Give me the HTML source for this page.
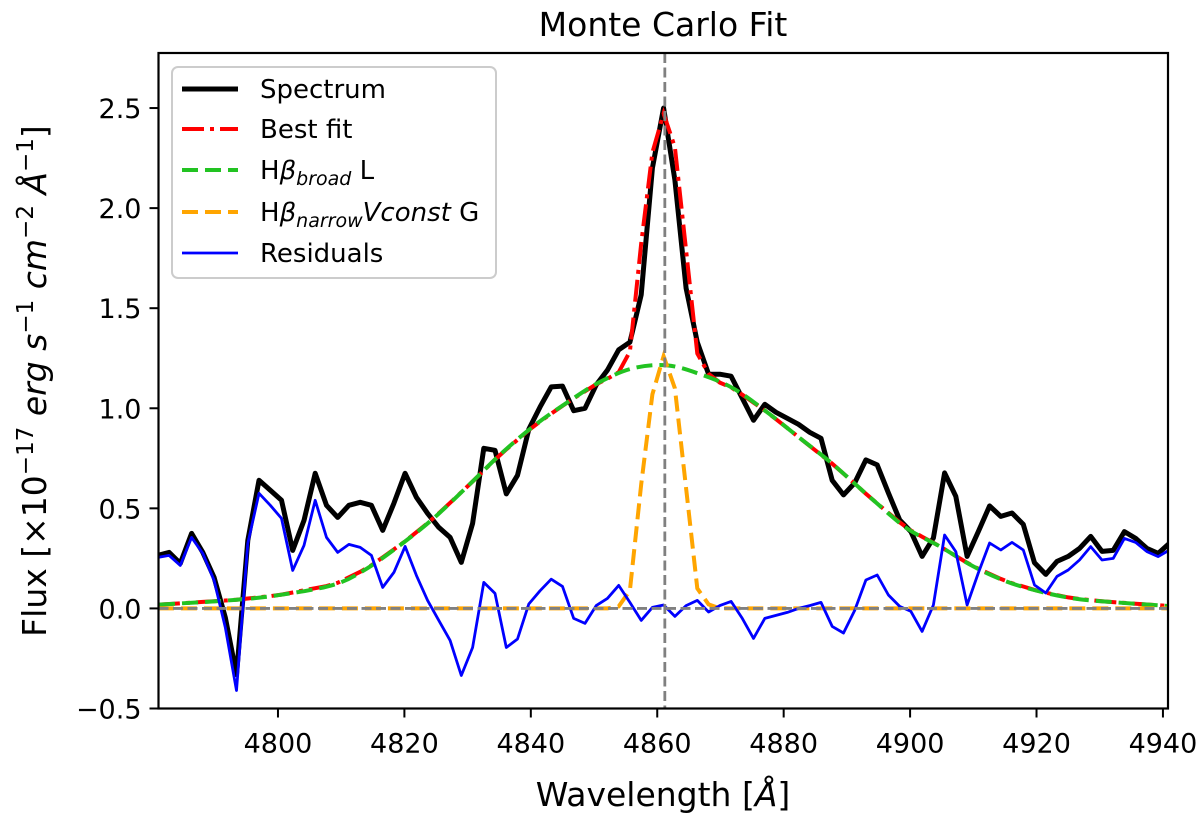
<!DOCTYPE html>
<html><head><meta charset="utf-8"><title>Monte Carlo Fit</title>
<style>
html,body{margin:0;padding:0;background:#fff;}
svg{display:block;font-family:"DejaVu Sans","Liberation Sans",sans-serif;}
</style></head>
<body>
<svg id="chart" width="1200" height="818" viewBox="0 0 1200 818" xmlns="http://www.w3.org/2000/svg">
<text x="663" y="36" font-size="33" text-anchor="middle" fill="#000">Monte Carlo Fit</text>
<g id="plot"></g>
<text x="663" y="806" font-size="33" text-anchor="middle" fill="#000">Wavelength [<tspan font-style="italic">Å</tspan>]</text>
<text transform="translate(46,381) rotate(-90)" font-size="33" text-anchor="middle" fill="#000">Flux [×10<tspan dy="-13" font-size="23">−17</tspan><tspan dy="13"> </tspan><tspan font-style="italic">erg s</tspan><tspan dy="-13" font-size="23">−1</tspan><tspan dy="13"> </tspan><tspan font-style="italic">cm</tspan><tspan dy="-13" font-size="23">−2</tspan><tspan dy="13"> </tspan><tspan font-style="italic">Å</tspan><tspan dy="-13" font-size="23">−1</tspan><tspan dy="13">]</tspan></text>
<g id="legend">
  <rect x="172" y="67" width="324" height="211" rx="6" fill="#fff" fill-opacity="0.8" stroke="#cccccc" stroke-width="2"/>
  <g>
    <line x1="182" y1="89" x2="238" y2="89" stroke="#000" stroke-width="5"/>
    <text x="260" y="98" font-size="26">Spectrum</text>
  </g>
  <g>
    <line x1="182" y1="129" x2="238" y2="129" stroke="#ff0000" stroke-width="4" stroke-dasharray="22,6,4,6"/>
    <text x="260" y="138" font-size="26">Best fit</text>
  </g>
  <g>
    <line x1="182" y1="170" x2="238" y2="170" stroke="#22c322" stroke-width="4" stroke-dasharray="16,7"/>
    <text x="260" y="179" font-size="26">H<tspan font-style="italic">β</tspan><tspan font-style="italic" font-size="19" dy="6">broad</tspan><tspan dy="-6"> L</tspan></text>
  </g>
  <g>
    <line x1="182" y1="212" x2="238" y2="212" stroke="#ffa500" stroke-width="4" stroke-dasharray="16,7"/>
    <text x="260" y="221" font-size="26">H<tspan font-style="italic">β</tspan><tspan font-style="italic" font-size="19" dy="6">narrow</tspan><tspan dy="-6" font-style="italic">Vconst</tspan><tspan> G</tspan></text>
  </g>
  <g>
    <line x1="182" y1="253" x2="238" y2="253" stroke="#0000ff" stroke-width="2.8"/>
    <text x="260" y="262" font-size="26">Residuals</text>
  </g>
</g>
</svg>
<script>
// ---- data ----
const gridStart = 4781.0;   // first wavelength sample (Å)
const gridStep = 1.778;     // sampling step (Å)
const spectrum = [0.265,0.28,0.225,0.375,0.28,0.155,-0.045,-0.33,0.34,0.64,
0.59,0.54,0.29,0.44,0.675,0.515,0.455,0.515,0.53,0.515,
0.39,0.525,0.675,0.555,0.475,0.405,0.355,0.23,0.425,0.8,
0.79,0.572,0.665,0.895,1.006,1.107,1.111,0.988,1.0,1.117,
1.19,1.292,1.33,1.567,2.2,2.5,2.14,1.6,1.33,1.17,
1.17,1.16,1.05,0.94,1.02,0.98,0.95,0.92,0.88,0.85,
0.64,0.567,0.627,0.742,0.717,0.577,0.442,0.384,0.26,0.352,
0.677,0.56,0.26,0.384,0.512,0.46,0.477,0.42,0.228,0.17,
0.235,0.26,0.3,0.36,0.285,0.29,0.384,0.35,0.3,0.275,0.325];
const residuals = [0.255,0.265,0.215,0.355,0.275,0.14,-0.095,-0.41,0.325,0.575,
0.515,0.45,0.19,0.315,0.54,0.355,0.28,0.32,0.305,0.265,
0.105,0.18,0.31,0.165,0.04,-0.06,-0.16,-0.335,-0.195,0.13,
0.075,-0.195,-0.153,0.022,0.088,0.146,0.11,-0.05,-0.075,0.014,
0.05,0.115,0.03,-0.06,0.005,0.017,-0.04,0.014,0.04,-0.018,
0.014,0.035,-0.05,-0.15,-0.05,-0.035,-0.02,0,0.014,0.03,
-0.09,-0.123,-0.01,0.142,0.167,0.067,0.01,-0.015,-0.115,0.017,
0.367,0.284,0.017,0.177,0.327,0.292,0.33,0.292,0.117,0.077,
0.16,0.192,0.242,0.309,0.242,0.25,0.35,0.33,0.284,0.259,0.292];
const narrow = [0,0,0,0,0,0,0,0,0,0, 0,0,0,0,0,0,0,0,0,0,
0,0,0,0,0,0,0,0,0,0, 0,0,0,0,0,0,0,0,0,0,
0,0.01,0.09,0.62,1.07,1.26,1.1,0.6,0.1,0.02,
0,0,0,0,0,0,0,0,0,0, 0,0,0,0,0,0,0,0,0,0,
0,0,0,0,0,0,0,0,0,0, 0,0,0,0,0,0,0,0,0,0,0];
const broadLam = [4781.2,4793,4800,4808.8,4814.1,4819.9,4824.6,4830,4835.2,4840.4,4845.8,4851,4856.2,4861.6,4866.8,4872,4877.4,4882.6,4887.8,4894.2,4899.5,4904.7,4910,4915.3,4920.6,4925.8,4931,4940.8];
const broadVal = [0.019,0.042,0.066,0.118,0.2,0.33,0.45,0.61,0.77,0.91,1.03,1.133,1.2,1.214,1.17,1.1,0.98,0.85,0.72,0.54,0.4,0.31,0.21,0.134,0.084,0.05,0.034,0.012];
const lineCenter = 4861.2;
const xTicks = [4800,4820,4840,4860,4880,4900,4920,4940];
const yTicks = [-0.5,0.0,0.5,1.0,1.5,2.0,2.5];
const yTickLabels = ["−0.5","0.0","0.5","1.0","1.5","2.0","2.5"];

// ---- axes ----
const L=158.5,R=1168,T=53,B=708.5;
const xMin=4781.1,xMax=4940.8,yMin=-0.5,yMax=2.775;
const X=v=>L+(v-xMin)/(xMax-xMin)*(R-L);
const Y=v=>B-(v-yMin)/(yMax-yMin)*(B-T);
const NS="http://www.w3.org/2000/svg";
const plot=document.getElementById('plot');
function mk(tag,attrs,parent){const e=document.createElementNS(NS,tag);for(const k in attrs)e.setAttribute(k,attrs[k]);(parent||plot).appendChild(e);return e;}
const lam=spectrum.map((_,i)=>gridStart+i*gridStep);
function interp(xs,ys,x){if(x<=xs[0])return ys[0];for(let i=1;i<xs.length;i++){if(x<=xs[i]){const t=(x-xs[i-1])/(xs[i]-xs[i-1]);return ys[i-1]+t*(ys[i]-ys[i-1]);}}return ys[ys.length-1];}
const best=lam.map((l,i)=>interp(broadLam,broadVal,l)+narrow[i]);
const pts=(xs,ys)=>xs.map((x,i)=>X(x).toFixed(1)+','+Y(ys[i]).toFixed(1)).join(' ');
function smoothPath(xs,ys){
  const P=xs.map((x,i)=>[X(x),Y(ys[i])]);
  let d='M'+P[0][0].toFixed(1)+','+P[0][1].toFixed(1);
  for(let i=0;i<P.length-1;i++){
    const p0=P[Math.max(0,i-1)],p1=P[i],p2=P[i+1],p3=P[Math.min(P.length-1,i+2)];
    const c1=[p1[0]+(p2[0]-p0[0])/6,p1[1]+(p2[1]-p0[1])/6];
    const c2=[p2[0]-(p3[0]-p1[0])/6,p2[1]-(p3[1]-p1[1])/6];
    d+=' C'+c1[0].toFixed(1)+','+c1[1].toFixed(1)+' '+c2[0].toFixed(1)+','+c2[1].toFixed(1)+' '+p2[0].toFixed(1)+','+p2[1].toFixed(1);
  }
  return d;
}

const defs=mk('defs',{});
const cp=mk('clipPath',{id:'clip'},defs);
mk('rect',{x:L,y:T,width:R-L,height:B-T},cp);
const g=mk('g',{'clip-path':'url(#clip)'});



let e;
e=mk('polyline',{points:pts(lam,spectrum),fill:'none',stroke:'#000','stroke-width':5,'stroke-linejoin':'round'},g);


e=mk('polyline',{points:pts(lam,best),fill:'none',stroke:'#ff0000','stroke-width':4,'stroke-dasharray':'22,6,4,6'},g);


e=mk('path',{d:smoothPath(broadLam,broadVal),fill:'none',stroke:'#22c322','stroke-width':4,'stroke-dasharray':'16,7'},g);


e=mk('polyline',{points:pts(lam,narrow),fill:'none',stroke:'#ffa500','stroke-width':4,'stroke-dasharray':'16,7'},g);


e=mk('polyline',{points:pts(lam,residuals),fill:'none',stroke:'#0000ff','stroke-width':2.8,'stroke-linejoin':'round'},g);


e=mk('line',{x1:L,x2:R,y1:Y(0),y2:Y(0),stroke:'#808080','stroke-width':2.8,'stroke-dasharray':'10,4.5'},g);


e=mk('line',{x1:X(lineCenter),x2:X(lineCenter),y1:T,y2:B,stroke:'#808080','stroke-width':2.8,'stroke-dasharray':'10,4.5'},g);



e=mk('rect',{x:L,y:T,width:R-L,height:B-T,fill:'none',stroke:'#000','stroke-width':2.2});



xTicks.forEach(v=>{
  const t=mk('line',{x1:X(v),x2:X(v),y1:B,y2:B+9,stroke:'#000','stroke-width':2});
  
  
  const s=mk('text',{x:X(v),y:B+44,'font-size':27,'text-anchor':'middle'});
  s.textContent=v;
  
  
});
yTicks.forEach((v,i)=>{
  const t=mk('line',{x1:L-9,x2:L,y1:Y(v),y2:Y(v),stroke:'#000','stroke-width':2});
  
  
  const s=mk('text',{x:L-17,y:Y(v)+10,'font-size':27,'text-anchor':'end'});
  s.textContent=yTickLabels[i];
  
  
});
</script>
</body></html>
